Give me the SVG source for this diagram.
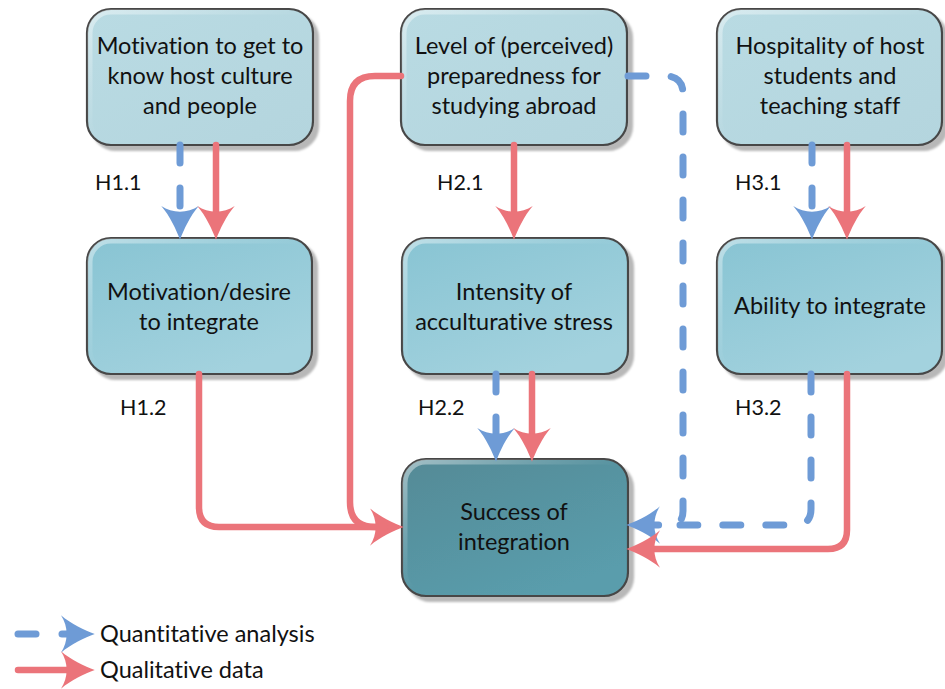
<svg xmlns="http://www.w3.org/2000/svg" width="945" height="689" viewBox="0 0 945 689">
  <defs>
    <style>
      .node rect.box { stroke: #474747; stroke-width: 2.2; }
      .node rect.gloss { fill: none; stroke: url(#gloss); stroke-width: 5; }
      .lbl { font-family: Lato, "Liberation Sans", sans-serif; font-size: 23.5px; fill: #111; text-anchor: middle; font-variant-ligatures: none; }
      .hyp { font-family: Lato, "Liberation Sans", sans-serif; font-size: 21.5px; fill: #111; }
      .leg { font-family: Lato, "Liberation Sans", sans-serif; font-size: 23.5px; fill: #111; font-variant-ligatures: none; }
      .qual { fill: none; stroke: #EB747A; stroke-width: 6.5; stroke-linecap: round; stroke-linejoin: round; }
      .quant { fill: none; stroke: #6E9BD6; stroke-width: 7; stroke-linecap: round; stroke-linejoin: round; stroke-dasharray: 18 25; }
    </style>
    <filter id="shadow" x="-10%" y="-10%" width="125%" height="125%">
      <feDropShadow dx="5" dy="5" stdDeviation="1.2" flood-color="#000" flood-opacity="0.28"/>
    </filter>
    <linearGradient id="gTop" x1="0" y1="0" x2="1" y2="1">
      <stop offset="0" stop-color="#B9DBE3"/>
      <stop offset="1" stop-color="#B4D5DE"/>
    </linearGradient>
    <linearGradient id="gMid" x1="0" y1="0" x2="0.6" y2="1">
      <stop offset="0" stop-color="#88C4D3"/>
      <stop offset="1" stop-color="#A3D2DE"/>
    </linearGradient>
    <linearGradient id="gEnd" x1="0" y1="0" x2="0.6" y2="1">
      <stop offset="0" stop-color="#548A96"/>
      <stop offset="1" stop-color="#5A9DAC"/>
    </linearGradient>
    <linearGradient id="gloss" x1="0" y1="0" x2="0.5" y2="0.5">
      <stop offset="0" stop-color="#FFFFFF" stop-opacity="0.45"/>
      <stop offset="0.6" stop-color="#FFFFFF" stop-opacity="0.15"/>
      <stop offset="1" stop-color="#FFFFFF" stop-opacity="0"/>
    </linearGradient>
    <marker id="headRed" markerUnits="userSpaceOnUse" markerWidth="40" markerHeight="40" viewBox="-15 -16 32 32" refX="0" refY="0" orient="auto" overflow="visible">
      <path d="M15,0 C7,-3 -4,-8 -12,-15 C-6,-6 -6,6 -12,15 C-4,8 7,3 15,0 Z" fill="#EB747A"/>
    </marker>
    <marker id="headBlue" markerUnits="userSpaceOnUse" markerWidth="40" markerHeight="40" viewBox="-15 -16 32 32" refX="0" refY="0" orient="auto" overflow="visible">
      <path d="M15,0 C7,-3 -4,-8 -12,-15 C-6,-6 -6,6 -12,15 C-4,8 7,3 15,0 Z" fill="#6E9BD6"/>
    </marker>
  </defs>

  <!-- top row -->
  <g id="n-motivation" class="node">
    <rect class="box" x="87" y="9" width="226" height="136" rx="24" fill="url(#gTop)" filter="url(#shadow)"/>
    <rect class="gloss" x="90" y="12" width="220" height="130" rx="21"/>
    <text class="lbl" x="200" y="54">Motivation to get to</text>
    <text class="lbl" x="200" y="84">know host culture</text>
    <text class="lbl" x="200" y="114">and people</text>
  </g>
  <g id="n-preparedness" class="node">
    <rect class="box" x="401" y="9" width="226" height="136" rx="24" fill="url(#gTop)" filter="url(#shadow)"/>
    <rect class="gloss" x="404" y="12" width="220" height="130" rx="21"/>
    <text class="lbl" x="514" y="54">Level of (perceived)</text>
    <text class="lbl" x="514" y="84">preparedness for</text>
    <text class="lbl" x="514" y="114">studying abroad</text>
  </g>
  <g id="n-hospitality" class="node">
    <rect class="box" x="717" y="9" width="225" height="136" rx="24" fill="url(#gTop)" filter="url(#shadow)"/>
    <rect class="gloss" x="720" y="12" width="219" height="130" rx="21"/>
    <text class="lbl" x="830" y="54">Hospitality of host</text>
    <text class="lbl" x="830" y="84">students and</text>
    <text class="lbl" x="830" y="114">teaching staff</text>
  </g>

  <!-- middle row -->
  <g id="n-desire" class="node">
    <rect class="box" x="87" y="238" width="225" height="136" rx="24" fill="url(#gMid)" filter="url(#shadow)"/>
    <rect class="gloss" x="90" y="241" width="219" height="130" rx="21"/>
    <text class="lbl" x="199" y="300">Motivation/desire</text>
    <text class="lbl" x="199" y="330">to integrate</text>
  </g>
  <g id="n-stress" class="node">
    <rect class="box" x="402" y="238" width="226" height="136" rx="24" fill="url(#gMid)" filter="url(#shadow)"/>
    <rect class="gloss" x="405" y="241" width="220" height="130" rx="21"/>
    <text class="lbl" x="514" y="300">Intensity of</text>
    <text class="lbl" x="514" y="330">acculturative stress</text>
  </g>
  <g id="n-ability" class="node">
    <rect class="box" x="717" y="238" width="225" height="136" rx="24" fill="url(#gMid)" filter="url(#shadow)"/>
    <rect class="gloss" x="720" y="241" width="219" height="130" rx="21"/>
    <text class="lbl" x="830" y="314">Ability to integrate</text>
  </g>

  <!-- outcome -->
  <g id="n-success" class="node">
    <rect class="box" x="402" y="459" width="226" height="137" rx="24" fill="url(#gEnd)" filter="url(#shadow)"/>
    <rect class="gloss" x="405" y="462" width="220" height="131" rx="21"/>
    <text class="lbl" x="514" y="520">Success of</text>
    <text class="lbl" x="514" y="550">integration</text>
  </g>

  <!-- connectors -->
  <g id="connectors">
    <!-- H1.1 -->
    <path class="quant" d="M180,145 V221" marker-end="url(#headBlue)"/>
    <path class="qual" d="M216,145 V221" marker-end="url(#headRed)"/>
    <!-- H2.1 -->
    <path class="qual" d="M514,145 V221" marker-end="url(#headRed)"/>
    <!-- H3.1 -->
    <path class="quant" d="M812,145 V221" marker-end="url(#headBlue)"/>
    <path class="qual" d="M847,145 V221" marker-end="url(#headRed)"/>
    <!-- H1.2 -->
    <path class="qual" d="M199,374 V507 Q199,527 219,527 H385" marker-end="url(#headRed)"/>
    <!-- preparedness to success (qualitative) -->
    <path class="qual" d="M401,76 H375 Q350,76 350,101 V502 Q350,527 375,527 H385"/>
    <!-- H2.2 -->
    <path class="quant" d="M496,374 V443" marker-end="url(#headBlue)"/>
    <path class="qual" d="M532,374 V443" marker-end="url(#headRed)"/>
    <!-- preparedness to success (quantitative) -->
    <path class="quant" d="M628,76 H665 Q683,76 683,94 V511 Q683,525 669,525 H645" marker-end="url(#headBlue)"/>
    <!-- H3.2 -->
    <path class="quant" d="M811,374 V509 Q811,525 795,525 H680"/>
    <path class="qual" d="M847,374 V530 Q847,549 828,549 H645" marker-end="url(#headRed)"/>
  </g>

  <!-- hypothesis labels -->
  <g id="hypotheses">
    <text class="hyp" x="95" y="190">H1.1</text>
    <text class="hyp" x="120" y="415">H1.2</text>
    <text class="hyp" x="437" y="190">H2.1</text>
    <text class="hyp" x="418" y="415">H2.2</text>
    <text class="hyp" x="735" y="190">H3.1</text>
    <text class="hyp" x="735" y="415">H3.2</text>
  </g>

  <!-- legend -->
  <g id="legend">
    <path class="quant" d="M18,634 H40"/>
    <path class="qual" style="stroke:#6E9BD6;stroke-width:7" d="M62,634 H76" marker-end="url(#headBlue)"/>
    <path class="qual" d="M18,670 H76" marker-end="url(#headRed)"/>
    <text class="leg" x="100" y="642">Quantitative analysis</text>
    <text class="leg" x="100" y="678">Qualitative data</text>
  </g>
</svg>
